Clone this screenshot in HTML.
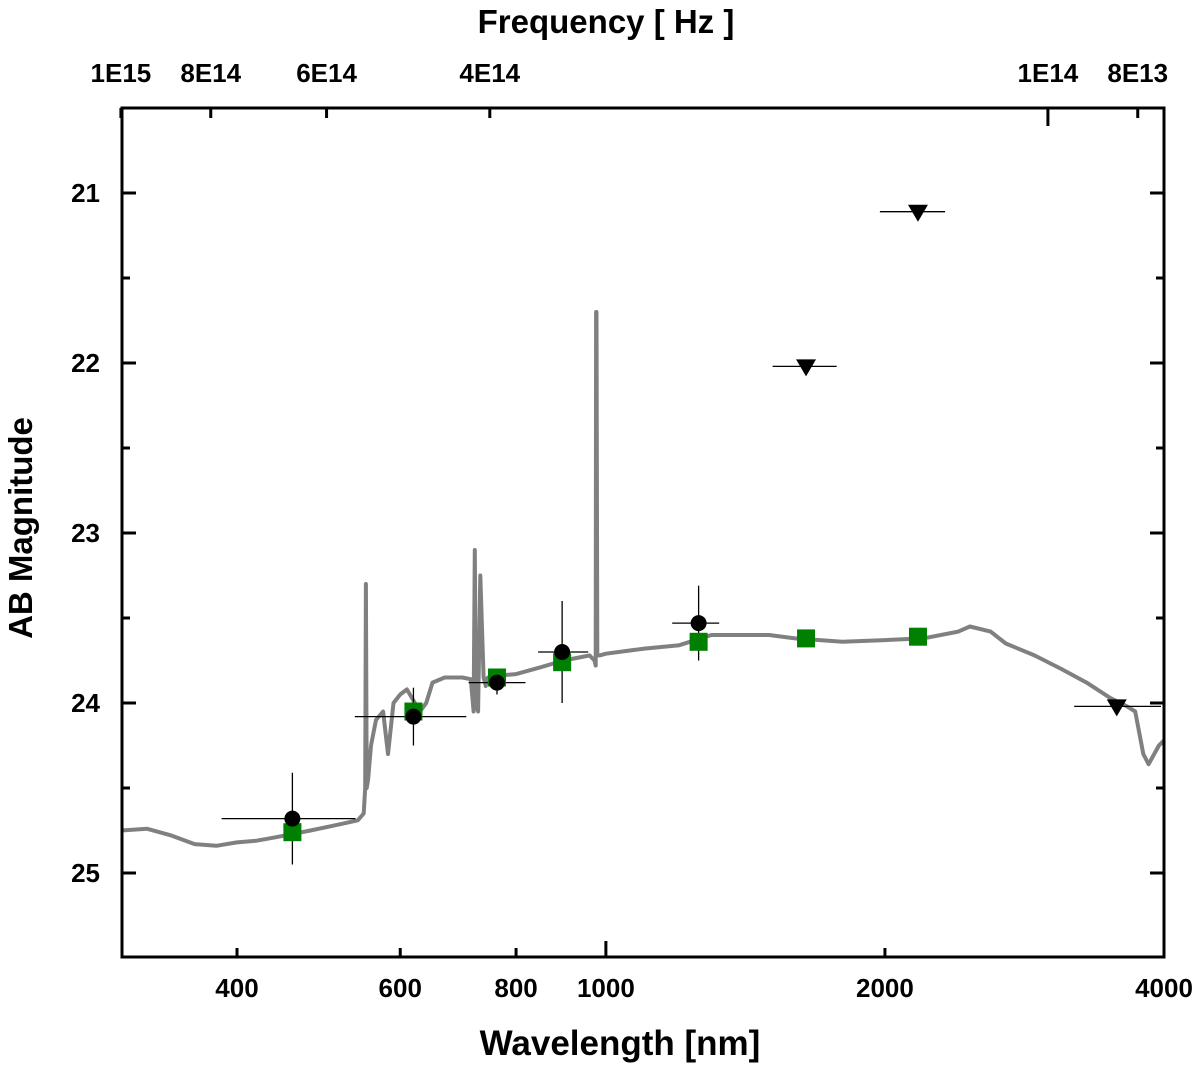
<!DOCTYPE html>
<html><head><meta charset="utf-8"><style>
body{margin:0;background:#fff}
svg text{font-family:"Liberation Sans",Arial,sans-serif;font-weight:bold;fill:#000}
</style></head><body>
<svg id="chart" width="1200" height="1070" viewBox="0 0 1200 1070" xmlns="http://www.w3.org/2000/svg"></svg>
<script>
const specWl=[300,320,340,360,380,400,420,440,460,480,500,520,540,548,550,551,552,554,558,565,575,582,590,600,610,630,640,650,670,700,715,720,722,724,728,732,738,742,744,746,750,760,800,850,900,940,960,972,975,976,977,979,985,1000,1100,1200,1300,1400,1500,1600,1800,2000,2200,2400,2470,2600,2700,2900,3100,3300,3500,3650,3724,3800,3850,3950,4000];
const specMag=[24.75,24.74,24.78,24.83,24.84,24.82,24.81,24.79,24.77,24.75,24.73,24.71,24.69,24.65,24.5,23.3,24.5,24.45,24.25,24.1,24.05,24.3,24.0,23.95,23.92,24.05,24.0,23.88,23.85,23.85,23.86,24.05,23.1,24.0,24.05,23.25,23.85,23.9,23.86,23.85,23.85,23.84,23.83,23.79,23.75,23.73,23.72,23.75,23.78,21.7,21.7,23.72,23.72,23.71,23.68,23.66,23.6,23.6,23.6,23.62,23.64,23.63,23.62,23.58,23.55,23.58,23.65,23.72,23.8,23.88,23.97,24.02,24.05,24.3,24.36,24.25,24.22];
const photWl=[459,620,763,897,1259];
const photMag=[24.68,24.08,23.88,23.70,23.53];
const photWlLo=[385,536,711,845,1179];
const photWlHi=[537,707,819,957,1325];
const photErr=[0.27,0.17,0.07,0.30,0.22];
const modelWl=[459,620,763,897,1259,1644,2171];
const modelMag=[24.76,24.05,23.85,23.76,23.64,23.62,23.61];
const limWl=[1644,2171,3557];
const limMag=[22.02,21.11,24.02];
const limWlLo=[1513,1975,3200];
const limWlHi=[1774,2322,3970];
const xTicks=[400,600,800,1000,2000,4000];
const yTicks=[21,22,23,24,25];
const freqTicks=[1e15,8e14,6e14,4e14,1e14,8e13];
const freqLabels=["1E15","8E14","6E14","4E14","1E14","8E13"];

const L=122,R=1164,T=108,B=957;
const X=w=>237+927*Math.log10(w/400);
const Y=m=>193+(m-21)*170;
const svg=document.getElementById('chart');
const NS='http://www.w3.org/2000/svg';
function mk(tag,attrs,parent){const e=document.createElementNS(NS,tag);for(const k in attrs)e.setAttribute(k,attrs[k]);(parent||svg).appendChild(e);return e;}

const clip=mk('clipPath',{id:'cp'});mk('rect',{x:L,y:T,width:R-L,height:B-T},clip);
let d=specWl.map((w,i)=>(i?'L':'M')+X(w).toFixed(1)+','+Y(specMag[i]).toFixed(1)).join(' ');
const sp=mk('path',{d:d,fill:'none',stroke:'#808080','stroke-width':4,'stroke-linejoin':'round','clip-path':'url(#cp)'});



photWl.forEach((w,i)=>{
  const g=mk('g',{});
  
  
  mk('line',{x1:X(photWlLo[i]),x2:X(photWlHi[i]),y1:Y(photMag[i]),y2:Y(photMag[i]),stroke:'#000','stroke-width':1.3},g);
  mk('line',{x1:X(w),x2:X(w),y1:Y(photMag[i]-photErr[i]),y2:Y(photMag[i]+photErr[i]),stroke:'#000','stroke-width':1.3},g);
});
modelWl.forEach((w,i)=>{
  const r=mk('rect',{x:X(w)-9,y:Y(modelMag[i])-9,width:18,height:18,fill:'#008000'});
  
  
});
photWl.forEach((w,i)=>{
  const c=mk('circle',{cx:X(w),cy:Y(photMag[i]),r:8,fill:'#000'});
  
  
});
limWl.forEach((w,i)=>{
  const g=mk('g',{});
  
  
  const x=X(w),y=Y(limMag[i]);
  mk('line',{x1:X(limWlLo[i]),x2:Math.min(X(limWlHi[i]),R),y1:y,y2:y,stroke:'#000','stroke-width':1.3},g);
  mk('polygon',{points:`${x-10},${y-7} ${x+10},${y-7} ${x},${y+10}`,fill:'#000'},g);
});

const fr=mk('rect',{x:L,y:T,width:R-L,height:B-T,fill:'none',stroke:'#000','stroke-width':3});


xTicks.forEach(w=>{const x=X(w);
  mk('line',{x1:x,x2:x,y1:B,y2:B-(w===1000?16:9),stroke:'#000','stroke-width':3});
  const t=mk('text',{x:x,y:997,'font-size':26,'text-anchor':'middle'});t.textContent=w;
  
  
});
yTicks.forEach(m=>{const y=Y(m);
  mk('line',{x1:L,x2:L+14,y1:y,y2:y,stroke:'#000','stroke-width':3});
  mk('line',{x1:R,x2:R-14,y1:y,y2:y,stroke:'#000','stroke-width':3});
  const t=mk('text',{x:100,y:y+9,'font-size':26,'text-anchor':'end'});t.textContent=m;
  
  
});
[20.5,21.5,22.5,23.5,24.5,25.5].forEach(m=>{const y=Y(m);if(y<T||y>B)return;
  mk('line',{x1:L,x2:L+8,y1:y,y2:y,stroke:'#000','stroke-width':3});
  mk('line',{x1:R,x2:R-8,y1:y,y2:y,stroke:'#000','stroke-width':3});});
freqTicks.forEach((f,i)=>{const x=X(2.998e17/f);
  mk('line',{x1:x,x2:x,y1:T,y2:T+(f===1e14?18:10),stroke:'#000','stroke-width':3});
  const t=mk('text',{x:x,y:82,'font-size':26,'text-anchor':'middle'});t.textContent=freqLabels[i];
  
  
});
let t=mk('text',{x:606,y:33,'font-size':33,'text-anchor':'middle'});t.textContent='Frequency [ Hz ]';


t=mk('text',{x:620,y:1055,'font-size':35,'text-anchor':'middle'});t.textContent='Wavelength [nm]';


t=mk('text',{x:0,y:0,'font-size':33,'text-anchor':'middle',transform:'translate(32,528) rotate(-90)'});t.textContent='AB Magnitude';


</script>
</body></html>
